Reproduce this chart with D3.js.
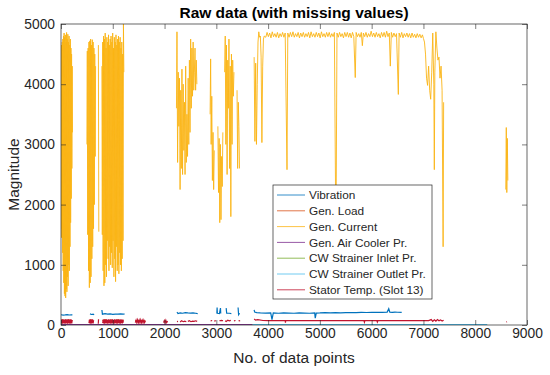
<!DOCTYPE html>
<html>
<head>
<meta charset="utf-8">
<script src="https://cdn.jsdelivr.net/npm/d3@7"></script>
<style>
  body { margin: 0; background: #fff; }
  text { font-family: "Liberation Sans", Arial, sans-serif; fill: #262626; }
</style>
</head>
<body>
<svg id="chart" width="550" height="375"></svg>
<script>
// tick values
const xTicks = [0, 1000, 2000, 3000, 4000, 5000, 6000, 7000, 8000, 9000];
const yTicks = [0, 1000, 2000, 3000, 4000, 5000];

const seriesNames = ["Vibration", "Gen. Load", "Gen. Current", "Gen. Air Cooler Pr.",
    "CW Strainer Inlet Pr.", "CW Strainer Outlet Pr.", "Stator Temp. (Slot 13)"];
const seriesColors = ["#0072BD", "#D95319", "#FBB415", "#7E2F8E", "#77AC30", "#4DBEEE", "#C0142F"];

// [data point no., value]; null = missing values
const vibration = [
    [0, 170], [40, 165], [80, 168], [120, 172], [160, 166], [200, 170], [220, 168], null,
    [560, 185], [590, 175], [620, 180], [640, 170], null,
    [790, 250], [800, 180], [850, 190], [900, 180], [950, 185], [1000, 178], [1050, 182],
    [1100, 180], [1150, 185], [1200, 180], [1230, 183], null,
    [2240, 215], [2260, 190], [2300, 200], [2350, 195], [2400, 205], [2450, 200], [2500, 198],
    [2550, 202], [2600, 195], [2640, 190], null,
    [3010, 190], [3015, 290], [3020, 195], [3060, 190], [3080, 280], [3085, 190], null,
    [3190, 280], [3200, 195], [3250, 195], [3290, 190], null,
    [3420, 290], [3430, 170], [3450, 195], null,
    [3730, 250], [3740, 215], [3780, 205], [3850, 200], [3950, 198], [4050, 200], [4075, 90],
    [4100, 200], [4200, 195], [4300, 200], [4400, 198], [4500, 195], [4600, 200], [4700, 198],
    [4800, 195], [4900, 200], [4910, 115], [4930, 198], [5000, 200], [5100, 205], [5200, 200],
    [5300, 205], [5400, 202], [5500, 205], [5600, 208], [5700, 205], [5800, 210], [5900, 208],
    [6000, 210], [6100, 212], [6200, 210], [6300, 215], [6330, 270], [6350, 212], [6400, 210],
    [6450, 215], [6500, 212], [6580, 210]
];

const genLoad = [
    [0, 70], [30, 85], [60, 60], [90, 80], [120, 65], [150, 85], [180, 60], [220, 75], null,
    [540, 70], [580, 85], [620, 65], null,
    [800, 75], [860, 85], [920, 60], [980, 80], [1040, 65], [1100, 85], [1160, 70], [1210, 80], null,
    [1430, 70], [1530, 75], [1630, 70]
];

const genCurrent = [
    [0, 4400], [6, 1450], [12, 4650], [18, 1600], [24, 4700], [30, 1200], [36, 4750], [42, 900],
    [48, 4800], [54, 700], [60, 4850], [66, 520], [72, 4780], [78, 480], [84, 4820], [90, 450],
    [96, 4700], [102, 600], [108, 4860], [114, 550], [120, 4750], [126, 800], [132, 4830], [138, 650],
    [144, 4700], [150, 1000], [156, 4800], [162, 900], [168, 4650], [174, 1300], [180, 4750], [186, 1700],
    [192, 4600], [198, 2100], [204, 4500], [210, 2600], [216, 4300], [222, 3200], null,
    [500, 3000], [508, 4550], [516, 1500], [524, 4600], [532, 900], [540, 4700], [548, 620], [556, 4720],
    [564, 700], [572, 4750], [580, 800], [588, 4650], [596, 1100], [604, 4740], [612, 1300], [620, 4700],
    [628, 1600], [636, 4600], [644, 2000], [652, 4500], [660, 2800], [668, 4300], null,
    [722, 4650], [730, 1550], null,
    [790, 4300], [798, 1500], [806, 4700], [814, 900], [822, 4800], [830, 650], [838, 4750], [846, 700],
    [854, 4850], [862, 1000], [870, 4600], [878, 800], [886, 4780], [894, 1400], [902, 4700], [910, 1100],
    [918, 4820], [926, 900], [934, 4650], [942, 1300], [950, 4750], [958, 1000], [966, 4800], [974, 1200],
    [982, 4700], [990, 950], [998, 4850], [1006, 1400], [1014, 4600], [1022, 800], [1030, 4780], [1038, 1100],
    [1046, 4700], [1054, 720], [1062, 4820], [1070, 1300], [1078, 4650], [1086, 900], [1094, 4750], [1102, 1000],
    [1110, 4800], [1118, 850], [1126, 4700], [1134, 1200], [1142, 4780], [1150, 1000], [1158, 4600], [1166, 900],
    [1174, 4700], [1182, 1100], [1190, 4500], [1198, 1400], [1206, 5000], [1214, 4200], null,
    [2230, 3600], [2240, 4870], [2252, 2700], [2264, 4200], [2276, 3300], [2288, 4100], [2300, 2250], [2312, 3900],
    [2324, 2600], [2336, 4250], [2348, 2500], [2360, 4000], [2372, 2900], [2384, 3700], [2396, 2500], [2408, 4300],
    [2420, 2700], [2432, 3500], [2444, 2800], [2456, 4100], [2468, 3000], [2480, 4400], [2492, 3200], [2504, 4750],
    [2516, 3600], [2528, 4600], [2540, 3800], [2552, 4700], [2564, 3900], [2576, 4200], [2588, 4600], [2600, 3900],
    [2612, 4400], [2624, 4000], null,
    [2880, 3500], [2890, 4420], [2900, 3000], [2912, 3800], [2924, 2400], [2936, 3200], [2948, 2250], [2960, 2900], null,
    [3030, 3300], [3042, 2200], [3054, 3100], [3066, 1700], [3078, 3000], [3090, 1750], [3102, 2800], [3114, 2300],
    [3126, 3200], null,
    [3160, 4200], [3172, 4800], [3184, 3000], [3196, 4650], [3208, 2500], [3220, 4400], [3232, 3600], [3244, 4750],
    [3256, 2600], [3268, 4300], [3280, 1800], [3292, 4500], [3304, 3000], [3316, 4400], [3328, 3800], [3340, 4200], null,
    [3400, 3900], [3412, 2600], [3424, 3700], [3436, 3300], [3448, 2600], null,
    [3730, 4450], [3745, 3050], [3760, 4350], [3775, 3000], [3790, 4000], [3805, 4700], [3820, 4870], [3835, 4780],
    [3850, 4800], [3865, 4450], [3880, 3030], [3895, 4300], [3910, 4750], [3925, 4800],
    [3955, 4780], [3980, 4860], [4005, 4790], [4030, 4850], [4055, 4770], [4080, 4870], [4105, 4790], [4130, 4840],
    [4155, 4780], [4180, 4860], [4205, 4770], [4230, 4840], [4255, 4790], [4280, 4860], [4305, 4780], [4330, 4850],
    [4365, 2580], [4380, 4850], [4405, 4780], [4430, 4860], [4455, 4790], [4480, 4870], [4505, 4780], [4530, 4840],
    [4555, 4790], [4580, 4860], [4605, 4770], [4630, 4850], [4655, 4790], [4680, 4860], [4705, 4780], [4730, 4840],
    [4755, 4790], [4780, 4860], [4805, 4770], [4830, 4870], [4855, 4790], [4880, 4840], [4905, 4780], [4930, 4860],
    [4955, 4790], [4980, 4850], [5005, 4770], [5030, 4870], [5055, 4790], [5080, 4840], [5105, 4780], [5130, 4860],
    [5155, 4790], [5180, 4860], [5205, 4780], [5230, 4840], [5255, 4790], [5280, 4860], [5310, 1300], [5330, 4850],
    [5355, 4780], [5380, 4860], [5405, 4790], [5430, 4840], [5455, 4770], [5480, 4860], [5505, 4790], [5530, 4860],
    [5555, 4780], [5580, 4850], [5605, 4770], [5630, 4860], [5655, 4790], [5683, 4110], [5700, 4860], [5725, 4790],
    [5750, 4840], [5775, 4780], [5800, 4860], [5820, 4640], [5840, 4850], [5865, 4790], [5890, 4860], [5915, 4780],
    [5940, 4840], [5965, 4790], [5990, 4880], [6015, 4790], [6040, 4850], [6065, 4780], [6090, 4860], [6115, 4790],
    [6140, 4840], [6165, 4770], [6190, 4860], [6215, 4790], [6240, 4860], [6265, 4780], [6290, 4880], [6315, 4790],
    [6340, 4850], [6360, 4300], [6380, 4860], [6405, 4780], [6430, 4850], [6455, 4790], [6480, 4840], [6515, 3830],
    [6530, 4850], [6555, 4780], [6580, 4860], [6605, 4770], [6630, 4840], [6655, 4790], [6680, 4850], [6705, 4780],
    [6730, 4840], [6755, 4770], [6780, 4850], [6805, 4780], [6830, 4830], [6855, 4770], [6880, 4840], [6905, 4780],
    [6930, 4830], [6955, 4770], [6980, 4820],
    [7000, 4760], [7020, 4700], [7040, 4500], [7060, 4100], [7080, 3980], [7100, 4300], [7120, 3900], [7140, 3750],
    [7160, 4200], [7180, 4850], [7200, 4000], [7210, 2580], [7220, 4200], [7240, 4870], [7260, 4600], [7280, 4400],
    [7300, 4450], [7320, 4100], [7340, 4300], [7360, 3900], [7380, 1300], [7390, 3700], null,
    [8590, 2250], [8600, 3280], [8610, 2200], [8620, 3100], [8630, 2400]
];

const airCoolerPr = [[0, 5], [1000, 5], [2000, 5], [3000, 5], [3700, 5]];
const strainerInletPr = [[0, 2], [4000, 2], [8230, 2]];
const strainerOutletPr = [[3700, 6], [5000, 6], [6000, 6], [7000, 6], [8230, 6]];

const statorTemp = [
    [0, 30], [8, 90], [16, 25], [24, 95], [32, 20], [40, 90], [48, 30], [56, 95], [64, 25], [72, 85],
    [80, 20], [88, 95], [96, 30], [104, 90], [112, 25], [120, 95], [128, 20], [136, 90], [144, 30],
    [152, 95], [160, 25], [168, 85], [176, 20], [184, 95], [192, 30], [200, 90], [208, 25], [216, 85], null,
    [540, 30], [550, 90], [560, 25], [570, 95], [580, 20], [590, 90], [600, 30], [610, 95], [620, 25], [630, 80], null,
    [720, 20], [725, 95], null,
    [805, 30], [815, 90], [825, 25], [835, 95], [845, 20], [855, 90], [865, 30], [875, 95], [885, 25], [895, 85],
    [905, 20], [915, 95], [925, 30], [935, 90], [945, 25], [955, 95], [965, 20], [975, 90], [985, 30], [995, 95],
    [1005, 25], [1015, 85], [1025, 20], [1035, 95], [1045, 30], [1055, 90], [1065, 25], [1075, 95], [1085, 20],
    [1095, 90], [1105, 30], [1115, 95], [1125, 25], [1135, 85], [1145, 20], [1155, 95], [1165, 30], [1175, 90],
    [1185, 25], [1195, 85], [1205, 40], null,
    [1435, 40], [1450, 80], [1465, 35], [1480, 85], [1495, 40], [1510, 80], [1525, 35], [1540, 85], [1555, 40],
    [1570, 80], [1585, 35], [1600, 80], [1615, 40], [1630, 70], null,
    [1980, 40], [1995, 75], [2010, 35], [2025, 80], [2040, 40], [2060, 65], null,
    [2240, 55], [2260, 60], null, [2300, 50], [2330, 70], [2360, 55], [2390, 65], [2420, 55], null,
    [2450, 60], [2480, 70], [2510, 55], [2540, 65], [2570, 60], [2600, 70], [2630, 60], null,
    [2890, 70], [2920, 75], null, [2960, 65], [2990, 72], null, [3060, 70], [3100, 78], [3130, 70], null,
    [3170, 72], [3190, 60], [3220, 80], [3250, 70], [3280, 78], null, [3340, 70], [3370, 75], null,
    [3430, 72], [3460, 70], null,
    [3730, 100], [3760, 80], [3800, 90], [3900, 75], [4000, 72], [4100, 75], [4200, 72], [4330, 72], [4335, 40],
    [4340, 72], [4500, 74], [4700, 72], [4900, 73], [5100, 72], [5300, 74], [5500, 72], [5700, 73], [5850, 72],
    [5860, 45], [5870, 72], [6000, 73], [6100, 72], [6110, 50], [6120, 72], [6300, 73], [6500, 72], [6700, 73],
    [6900, 72], [7100, 74], [7150, 90], [7180, 60], [7210, 85], [7240, 65], [7270, 90], [7300, 70], [7330, 85],
    [7360, 65], [7390, 80], null,
    [8600, 50], [8615, 55]
];

const allSeries = [vibration, genLoad, genCurrent, airCoolerPr, strainerInletPr, strainerOutletPr, statorTemp];
// draw order: low series first under the current, stator temp on top of load
const drawOrder = [2, 4, 3, 5, 0, 1, 6];

const svg = d3.select("#chart");
const margin = {top: 24, right: 23, bottom: 50, left: 61};
const width = 550 - margin.left - margin.right;
const height = 375 - margin.top - margin.bottom;

const x = d3.scaleLinear().domain([0, 9000]).range([0, width]);
const y = d3.scaleLinear().domain([0, 5000]).range([height, 0]);

const g = svg.append("g")
    .attr("transform", "translate(" + margin.left + "," + margin.top + ")");

g.append("defs").append("clipPath")
    .attr("id", "clip")
    .append("rect")
    .attr("width", width)
    .attr("height", height);

const line = d3.line()
    .defined(d => d !== null)
    .x(d => x(d[0]))
    .y(d => y(d[1]));

const plot = g.append("g").attr("clip-path", "url(#clip)");
for (let i of drawOrder) {
    plot.append("path")
        .datum(allSeries[i])
        .attr("d", line)
        .attr("fill", "none")
        .attr("stroke", seriesColors[i])
        .attr("stroke-width", i === 2 ? 0.9 : 1.2);
}

// axes, MATLAB style: ticks inward on all four sides
const fmt = d3.format("d");
g.append("g")
    .attr("transform", "translate(0," + height + ")")
    .call(d3.axisBottom(x).tickValues(xTicks).tickFormat(fmt).tickSizeInner(-5).tickSizeOuter(0).tickPadding(3));
g.append("g")
    .call(d3.axisLeft(y).tickValues(yTicks).tickFormat(fmt).tickSizeInner(-5).tickSizeOuter(0).tickPadding(6));
g.append("g")
    .call(d3.axisTop(x).tickValues(xTicks).tickSizeInner(-5).tickSizeOuter(0).tickFormat(""));
g.append("g")
    .attr("transform", "translate(" + width + ",0)")
    .call(d3.axisRight(y).tickValues(yTicks).tickSizeInner(-5).tickSizeOuter(0).tickFormat(""));

g.selectAll(".domain").remove();
g.selectAll(".tick line").attr("stroke", "#262626").attr("stroke-width", 0.6);
g.selectAll(".tick text").attr("font-size", 13.8).attr("font-family", "Liberation Sans, Arial, sans-serif").attr("fill", "#262626");

g.append("rect")
    .attr("width", width)
    .attr("height", height)
    .attr("fill", "none")
    .attr("stroke", "#262626")
    .attr("stroke-width", 0.7);

// titles
svg.append("text")
    .attr("x", margin.left + width / 2)
    .attr("y", 18)
    .attr("text-anchor", "middle")
    .attr("font-size", 15.5)
    .attr("font-weight", "bold")
    .style("fill", "#000")
    .text("Raw data (with missing values)");

svg.append("text")
    .attr("x", margin.left + width / 2)
    .attr("y", 363)
    .attr("text-anchor", "middle")
    .attr("font-size", 15.5)
    .text("No. of data points");

svg.append("text")
    .attr("transform", "translate(18.5," + (margin.top + height / 2) + ") rotate(-90)")
    .attr("text-anchor", "middle")
    .attr("font-size", 15.5)
    .text("Magnitude");

// legend
const legend = svg.append("g").attr("transform", "translate(273,185)");
legend.append("rect")
    .attr("width", 159)
    .attr("height", 114)
    .attr("fill", "#fff")
    .attr("stroke", "#262626")
    .attr("stroke-width", 0.7);

seriesNames.forEach(function (name, i) {
    let ly = 10 + i * 15.8;
    legend.append("line")
        .attr("x1", 4).attr("x2", 32)
        .attr("y1", ly).attr("y2", ly)
        .attr("stroke", seriesColors[i])
        .attr("stroke-width", 0.8);
    legend.append("text")
        .attr("x", 36)
        .attr("y", ly)
        .attr("dy", "0.35em")
        .attr("font-size", 11.8)
        .text(name);
});
</script>
</body>
</html>
